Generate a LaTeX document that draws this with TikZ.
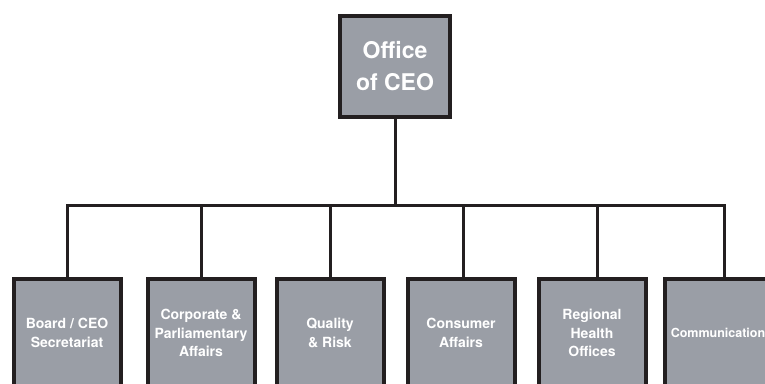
\documentclass[tikz,border=0pt]{standalone}
\usepackage{fontspec}
\setsansfont{TeX Gyre Heros}
\definecolor{unitgray}{RGB}{154,158,166}
\definecolor{inkblack}{RGB}{35,31,32}

\begin{document}
\begin{tikzpicture}[x=1pt,y=-1pt,
  unit/.style={draw=inkblack, line width=4pt, fill=unitgray, text=white,
    font=\sffamily\bfseries\fontsize{14}{18.5}\selectfont, align=center,
    minimum width=107pt, minimum height=108pt, inner sep=0pt},
  head/.style={unit, minimum width=110pt, minimum height=101pt,
    font=\sffamily\bfseries\fontsize{23}{32}\selectfont},
  link/.style={draw=inkblack, line width=3pt}]

\useasboundingbox (0,0) rectangle (765,383);
\clip (0,0) rectangle (765,383);

\node[head] (ceo) at (395,66.5) {Office\\of CEO};

\node[unit] (board)    at (67,333)  {Board / CEO\\Secretariat};
\node[unit] (corp)     at (201,333) {Corporate \&\\Parliamentary\\Affairs};
\node[unit] (quality)  at (330,333) {Quality\\\& Risk};
\node[unit] (consumer) at (461,333) {Consumer\\Affairs};
\node[unit] (regional) at (592,333) {Regional\\Health\\Offices};
\node[unit, font=\sffamily\bfseries\fontsize{12.5}{18}\selectfont]
  (comm) at (718,333) {Communication};

\coordinate (bus) at (395,205);

\draw[link] (ceo.south) -- (ceo.south |- bus);
\draw[link, line cap=rect] (board.north |- bus) -- ([xshift=6pt]comm.north |- bus);
\draw[link] (board.north) -- (board.north |- bus);
\draw[link] (corp.north) -- (corp.north |- bus);
\draw[link] (quality.north) -- (quality.north |- bus);
\draw[link] ([xshift=2pt]consumer.north) -- ([xshift=2pt]consumer.north |- bus);
\draw[link] ([xshift=5pt]regional.north) -- ([xshift=5pt]regional.north |- bus);
\draw[link] ([xshift=6pt]comm.north) -- ([xshift=6pt]comm.north |- bus);

\end{tikzpicture}
\end{document}
